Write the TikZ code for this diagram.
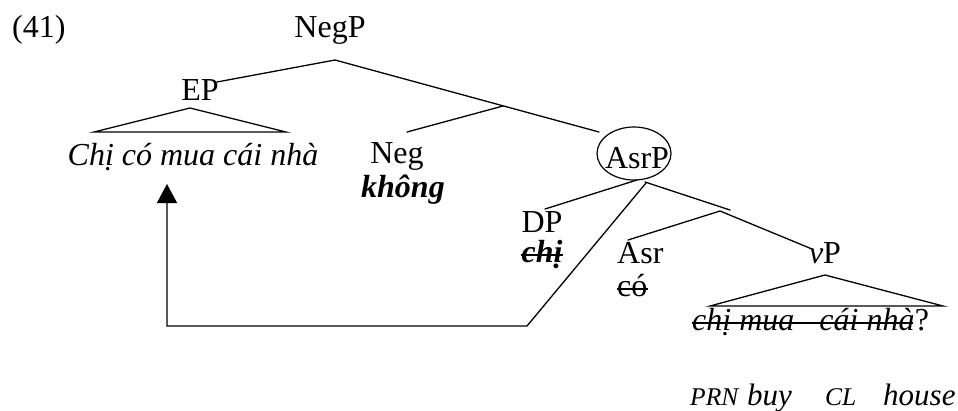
\documentclass[tikz,border=0pt]{standalone}
\usepackage{fontspec}
\setmainfont{Liberation Serif}
\usetikzlibrary{arrows.meta,shapes.geometric}
\begin{document}
\begin{tikzpicture}[x=1pt,y=-1pt,
  lbl/.style={inner sep=0pt, anchor=base, font=\fontsize{32}{37}\selectfont},
  lblw/.style={lbl, anchor=base west},
  gl/.style={lblw, font=\fontsize{31}{36}\selectfont\itshape},
  glsc/.style={lblw, font=\fontsize{25.5}{30}\selectfont\itshape},
  branch/.style={line width=1.3pt, line cap=round},
  strike/.style={line width=1.3pt},
  move/.style={line width=1.3pt, -{Triangle[width=20pt,length=19pt]}},
  circ/.style={draw, ellipse, line width=1.2pt, minimum width=74pt, minimum height=53pt, inner sep=0pt},
]
\useasboundingbox (0,0) rectangle (958,410);

% labels
\node[lblw] (ex) at (12,37) {(41)};
\node[lbl] (negp) at (330,37) {NegP};
\node[lbl] (ep) at (200,100) {EP};
\node[lbl] (epw) at (193,165) {\itshape Chị có mua cái nhà};
\node[lbl] (neg) at (397,163) {Neg};
\node[lbl] (negw) at (403,197) {\bfseries\itshape không};
\node[lbl] (asrp) at (637,168) {AsrP};
\node[circ] (asrpc) at (634,153.5) {};
\node[lbl] (dp) at (542,232) {DP};
\node[lbl] (dpw) at (542,262) {\bfseries\itshape chị};
\node[lblw] (asr) at (617,263) {Asr};
\node[lblw] (asrw) at (617,296) {có};
\node[lbl] (vp) at (825,263) {\textit{v}P};
\node[lblw] (vpw) at (692,330) {\itshape chị mua\hspace{25pt}cái nhà};
\node[lblw] (q) at (vpw.base east) {?};

% gloss
\node[glsc] (g1) at (690,405) {PRN};
\node[gl] (g2) at (747,405) {buy};
\node[glsc] (g3) at (825,405) {CL};
\node[gl] (g4) at (883,405) {house};

% tree points
\coordinate (negpT) at (335,60);
\coordinate (epB) at (217,82);
\coordinate (asrpB) at (599,132);
\coordinate (negbar) at (503,106);
\coordinate (negB) at (407,132);
\coordinate (epA) at (190,108);
\coordinate (epL) at (94,132);
\coordinate (epR) at (286,132);
\coordinate (asrpTL) at (637,180);
\coordinate (asrpTR) at (645,182);
\coordinate (dpB) at (545,209);
\coordinate (asrbarB) at (730,210);
\coordinate (asrbar) at (720,211);
\coordinate (asrB) at (628,240);
\coordinate (vpB) at (812,249);
\coordinate (vpA) at (825,275);
\coordinate (vpL) at (710,306);
\coordinate (vpR) at (943,306);
\coordinate (mvS) at (646,183);
\coordinate (mv1) at (527,326);
\coordinate (mv2) at (167,326);
\coordinate (mvE) at (167,184);

% branches
\draw[branch] (epB) -- (negpT) -- (asrpB);
\draw[branch] (negB) -- (negbar);
\draw[branch] (epL) -- (epA) -- (epR) -- cycle;
\draw[branch] (asrpTL) -- (dpB);
\draw[branch] (asrpTR) -- (asrbarB);
\draw[branch] (asrB) -- (asrbar) -- (vpB);
\draw[branch] (vpL) -- (vpA) -- (vpR) -- cycle;

% movement arrow
\draw[move] (mvS) -- (mv1) -- (mv2) -- (mvE);

% strike-throughs
\draw[strike] ([yshift=7pt]dpw.base west) -- ([yshift=7pt]dpw.base east);
\draw[strike] ([yshift=7pt]asrw.base west) -- ([yshift=7pt]asrw.base east);
\draw[strike] ([yshift=7pt]vpw.base west) -- ([yshift=7pt,xshift=-2pt]vpw.base east);
\end{tikzpicture}
\end{document}
